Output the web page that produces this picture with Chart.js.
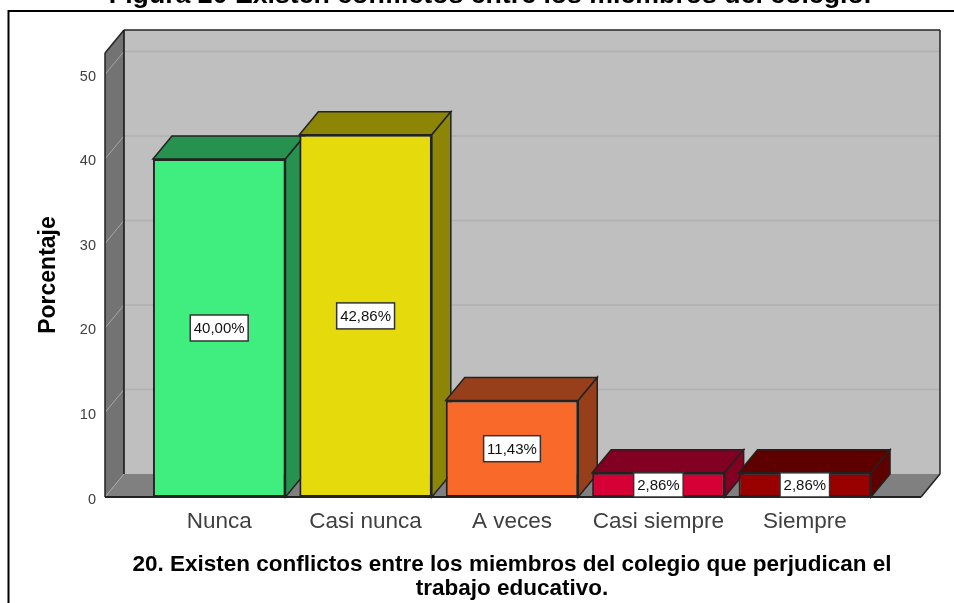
<!DOCTYPE html>
<html>
<head>
<meta charset="utf-8">
<style>
  html, body { margin: 0; padding: 0; background: #fff; }
  canvas { display: block; }
</style>
<script src="https://cdn.jsdelivr.net/npm/chart.js@4"></script>
</head>
<body>
<canvas id="myChart" width="954" height="603"></canvas>
<script>
const categories = ['Nunca', 'Casi nunca', 'A veces', 'Casi siempre', 'Siempre'];
const porcentajes = [40.00, 42.86, 11.43, 2.86, 2.86];
const frontColors = ['#40EE80', '#E5DA0C', '#F8692A', '#D60036', '#990000'];
const depthColors = ['#27914F', '#8C8505', '#973F1A', '#820021', '#5E0000'];
const yTicks = [0, 10, 20, 30, 40, 50];

const chartTitle = 'Figura 20 Existen conflictos entre los miembros del colegio.';
const xTitle = ['20. Existen conflictos entre los miembros del colegio que perjudican el', 'trabajo educativo.'];
const yTitle = 'Porcentaje';

// depth of the fake 3D box
const dx = 19;
const dy = 23;

function poly (ctx, pts, fill, stroke) {
  ctx.beginPath();
  pts.forEach((p, i) => i ? ctx.lineTo(p[0], p[1]) : ctx.moveTo(p[0], p[1]));
  ctx.closePath();
  ctx.fillStyle = fill;
  ctx.fill();
  if (stroke) {
    ctx.strokeStyle = stroke;
    ctx.lineWidth = 1.5;
    ctx.stroke();
  }
}

function line (ctx, x1, y1, x2, y2, color, w) {
  ctx.beginPath();
  ctx.moveTo(x1, y1);
  ctx.lineTo(x2, y2);
  ctx.strokeStyle = color;
  ctx.lineWidth = w;
  ctx.stroke();
}

const box3d = {
  id: 'box3d',
  beforeDatasetsDraw (chart) {
    const ctx = chart.ctx;
    const area = chart.chartArea;
    const y = chart.scales.y;
    const l = area.left - 41;
    const r = area.right + 43;
    const t = area.top;
    const b = area.bottom;
    ctx.save();

    // frame and clipped title
    ctx.strokeStyle = '#000';
    ctx.lineWidth = 2;
    ctx.beginPath();
    ctx.moveTo(8.5, 603);
    ctx.lineTo(8.5, 11);
    ctx.lineTo(954, 11);
    ctx.stroke();
    ctx.fillStyle = '#000';
    ctx.font = 'bold 26.7px "Liberation Sans"';
    ctx.textAlign = 'center';
    ctx.textBaseline = 'alphabetic';
    ctx.fillText(chartTitle, 490, 3);

    // the scale title would be squeezed to the plot width, so it is drawn here
    ctx.font = 'bold 22.5px "Liberation Sans"';
    ctx.fillText(xTitle[0], 512, 571);
    ctx.fillText(xTitle[1], 512, 595);

    // walls
    poly(ctx, [[l + dx, t - dy], [r + dx, t - dy], [r + dx, b - dy], [l + dx, b - dy]], '#BFBFBF');
    poly(ctx, [[l, b], [r, b], [r + dx, b - dy], [l + dx, b - dy]], '#808080');
    poly(ctx, [[l, t], [l + dx, t - dy], [l + dx, b - dy], [l, b]], '#737373');

    yTicks.forEach(v => {
      const py = y.getPixelForValue(v);
      line(ctx, l, py, l + dx, py - dy, '#A6A6A6', 1);
      if (v > 0) line(ctx, l + dx, py - dy, r + dx, py - dy, '#B0B0B0', 1.5);
    });

    line(ctx, l, b, l, t, '#222', 1.5);
    line(ctx, l, t, l + dx, t - dy, '#222', 1.5);
    line(ctx, l + dx, t - dy, r + dx, t - dy, '#222', 1.5);
    line(ctx, l + dx, t - dy, l + dx, b - dy, '#111', 1.5);
    line(ctx, r + dx, t - dy, r + dx, b - dy, '#222', 1.5);
    line(ctx, r + dx, b - dy, r, b, '#222', 1.5);
    line(ctx, l, b, r, b, '#222', 2);

    // top and side faces, fronts are the library's bars
    chart.getDatasetMeta(0).data.forEach((bar, i) => {
      const x1 = bar.x - bar.width / 2;
      const x2 = bar.x + bar.width / 2;
      poly(ctx, [[x1, bar.y], [x1 + dx, bar.y - dy], [x2 + dx, bar.y - dy], [x2, bar.y]], depthColors[i], '#222');
      poly(ctx, [[x2, bar.y], [x2 + dx, bar.y - dy], [x2 + dx, bar.base - dy], [x2, bar.base]], depthColors[i], '#222');
    });
    ctx.restore();
  },
  afterDatasetsDraw (chart) {
    const ctx = chart.ctx;
    ctx.save();
    ctx.font = '15px "Liberation Sans"';
    ctx.textAlign = 'center';
    ctx.textBaseline = 'middle';
    chart.getDatasetMeta(0).data.forEach((bar, i) => {
      const txt = porcentajes[i].toFixed(2).replace('.', ',') + '%';
      const w = ctx.measureText(txt).width + 7;
      const h = Math.min(26, bar.base - bar.y);
      const cy = (bar.y + bar.base) / 2;
      ctx.fillStyle = '#fff';
      ctx.fillRect(bar.x - w / 2, cy - h / 2, w, h);
      ctx.strokeStyle = '#333';
      ctx.lineWidth = 1.5;
      ctx.strokeRect(bar.x - w / 2, cy - h / 2, w, h);
      ctx.fillStyle = '#111';
      ctx.fillText(txt, bar.x, cy + 1);
    });
    ctx.restore();
  }
};

new Chart(document.getElementById('myChart').getContext('2d'), {
  type: 'bar',
  data: {
    labels: categories,
    datasets: [{
      data: porcentajes,
      backgroundColor: frontColors,
      borderColor: '#222',
      borderWidth: 2,
      borderSkipped: false,
      barPercentage: 0.905,
      categoryPercentage: 1
    }]
  },
  options: {
    responsive: false,
    animation: false,
    devicePixelRatio: 1,
    layout: { padding: { top: 53, right: 76, left: 0, bottom: 0 } },
    plugins: {
      legend: { display: false },
      tooltip: { enabled: false }
    },
    scales: {
      x: {
        grid: { display: false, drawTicks: false },
        border: { display: false },
        ticks: {
          color: '#404040',
          font: { family: '"Liberation Sans"', size: 22.5 },
          padding: 11,
          maxRotation: 0,
          autoSkip: false
        },
        afterFit (scale) { scale.height = 106; }
      },
      y: {
        min: 0,
        max: 52.54,
        grid: { display: false, drawTicks: false },
        border: { display: false },
        ticks: {
          stepSize: 10,
          includeBounds: false,
          color: '#404040',
          font: { family: '"Liberation Sans"', size: 14.5 },
          padding: 50,
          labelOffset: 2.5
        },
        title: {
          display: true,
          text: yTitle,
          color: '#000',
          font: { family: '"Liberation Sans"', size: 23, weight: 'bold' },
          padding: { top: 35, bottom: 0 }
        },
        afterFit (scale) {
          scale.width = 146;
          // tick padding would otherwise push the plot top down
          scale.paddingTop = 0;
          scale.paddingBottom = 0;
        }
      }
    }
  },
  plugins: [box3d]
});
</script>
</body>
</html>
